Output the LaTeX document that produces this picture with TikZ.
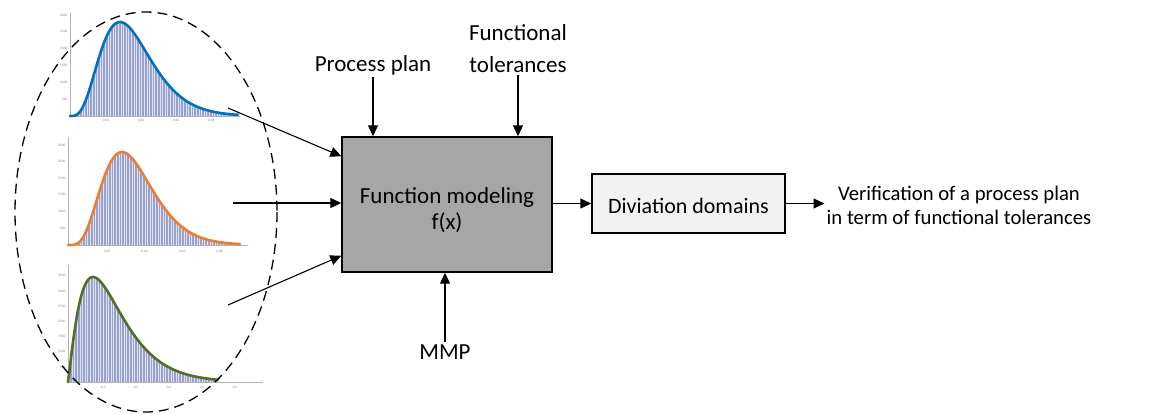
\documentclass[tikz,border=0pt]{standalone}
\usepackage{fontspec}
\setmainfont{Carlito}
\usetikzlibrary{arrows.meta,calc}
\definecolor{cblue}{RGB}{0,112,192}
\definecolor{corange}{RGB}{237,125,49}
\definecolor{cgreen}{RGB}{84,110,40}
\definecolor{histfill}{RGB}{152,160,205}
\definecolor{boxgray}{RGB}{166,166,166}
\definecolor{boxlight}{RGB}{242,242,242}
\newcommand\drawhist[9]{%
  \begin{scope}
    \clip ({#1},{#2}) -- plot[domain=2:#6, samples=100, smooth] ({#1+\x},{#2-#4*exp(#5*(ln(\x/#3)+1-\x/#3))}) -- ({#1+#6},{#2}) -- cycle;
    \fill[histfill] ({#1},{#8}) rectangle ({#1+#6},{#2});
    \foreach \i in {1.3,3.9,...,#6} \draw[white!70!histfill, line width=0.35pt] ({#1+\i},{#8}) -- ({#1+\i},{#2});
  \end{scope}
  \draw[gray!60, line width=0.4pt] ({#1},{#2}) -- ({#1+#7},{#2});
  \draw[gray!60, line width=0.4pt] ({#1},{#2}) -- ({#1},{#8});
  \draw[#9, line width=2.6pt, line cap=round] ({#1},{#2}) -- plot[domain=2:#6, samples=100, smooth] ({#1+\x},{#2-#4*exp(#5*(ln(\x/#3)+1-\x/#3))});
}
\tikzset{
  arr/.style={line width=1.1pt, -{Triangle[length=11pt,width=10pt]}},
  lbl/.style={font=\fontsize{23}{27}\selectfont, align=center, inner sep=1pt},
  tick/.style={font=\fontsize{3.5}{4}\selectfont, text=gray, inner sep=0.5pt},
}
\begin{document}
\begin{tikzpicture}[x=1pt,y=-1pt]
\useasboundingbox (0,0) rectangle (1149,415);
% histograms
\drawhist{70}{116}{50}{94}{3.8}{168}{170}{13}{cblue}
\drawhist{68}{245}{54}{93}{4.5}{172}{180}{137}{corange}
\drawhist{68}{382}{25}{105}{1.2}{150}{195}{265}{cgreen}
% tick labels
\foreach \v [count=\n from 0] in {500,1000,1500,2000,2500,3000}
  \node[tick, anchor=east] at (68,{99-16.8*\n}) {\v};
\foreach \v [count=\n from 0] in {0.02,0.04,0.06,0.08}
  \node[tick] at ({106+35*\n},120) {\v};
\foreach \v [count=\n from 0] in {500,1000,1500,2000,2500,3000}
  \node[tick, anchor=east] at (66,{228-16.6*\n}) {\v};
\foreach \v [count=\n from 0] in {0.02,0.04,0.06,0.08}
  \node[tick] at ({107+37.5*\n},251) {\v};
\foreach \v [count=\n from 0] in {500,1000,1500,2000,2500,3000,3500}
  \node[tick, anchor=east] at (66,{367-15.2*\n}) {\v};
\foreach \v [count=\n from 0] in {0.1,0.2,0.3,0.4,0.5}
  \node[tick] at ({103+33*\n},387) {\v};
% dashed ellipse
\draw[line width=1.3pt, dash pattern=on 10pt off 6pt] (146,212) ellipse [x radius=131, y radius=200];
% main boxes
\node[draw, line width=1.4pt, fill=boxgray, minimum width=210pt, minimum height=135pt, lbl, font=\fontsize{23}{26}\selectfont] (fm) at (447,204.5) {\raisebox{-7pt}[\height][\depth]{\begin{tabular}{@{}c@{}}Function modeling\\f(x)\end{tabular}}};
\node[draw, line width=1.4pt, fill=boxlight, minimum width=193pt, minimum height=59pt, lbl, font=\fontsize{22}{25}\selectfont] (dd) at (688.5,203.5) {\raisebox{-2pt}[\height][\depth]{Diviation domains}};
\node[lbl, inner sep=2pt, font=\fontsize{20.7}{24}\selectfont] (ver) at (959,205) {Verification of a process plan\\in term of functional tolerances};
\node[lbl] (pp) at (373,65) {Process plan};
\node[lbl, font=\fontsize{23}{32}\selectfont] (ft) at (518,49) {Functional\\tolerances};
\node[lbl] (mmp) at (445,352) {MMP};
% free ends
\coordinate (i1) at (228,108);
\coordinate (i2) at (233,203);
\coordinate (i3) at (228,305);
% connectors
\draw[arr] (i1) -- ([yshift=-20pt]fm.north west);
\draw[arr] (i2) -- (i2 -| fm.west);
\draw[arr] (i3) -- ([yshift=17pt]fm.south west);
\draw[arr] ([yshift=-1pt]pp.south) -- (pp.south |- fm.north);
\draw[arr] ([yshift=-1pt]ft.south) -- (ft.south |- fm.north);
\draw[arr] ([yshift=1pt]mmp.north) -- (mmp.north |- fm.south);
\draw[arr] (fm.east |- dd.west) -- (dd.west);
\draw[arr] (dd.east) -- (dd.east -| ver.west);
\end{tikzpicture}
\end{document}
